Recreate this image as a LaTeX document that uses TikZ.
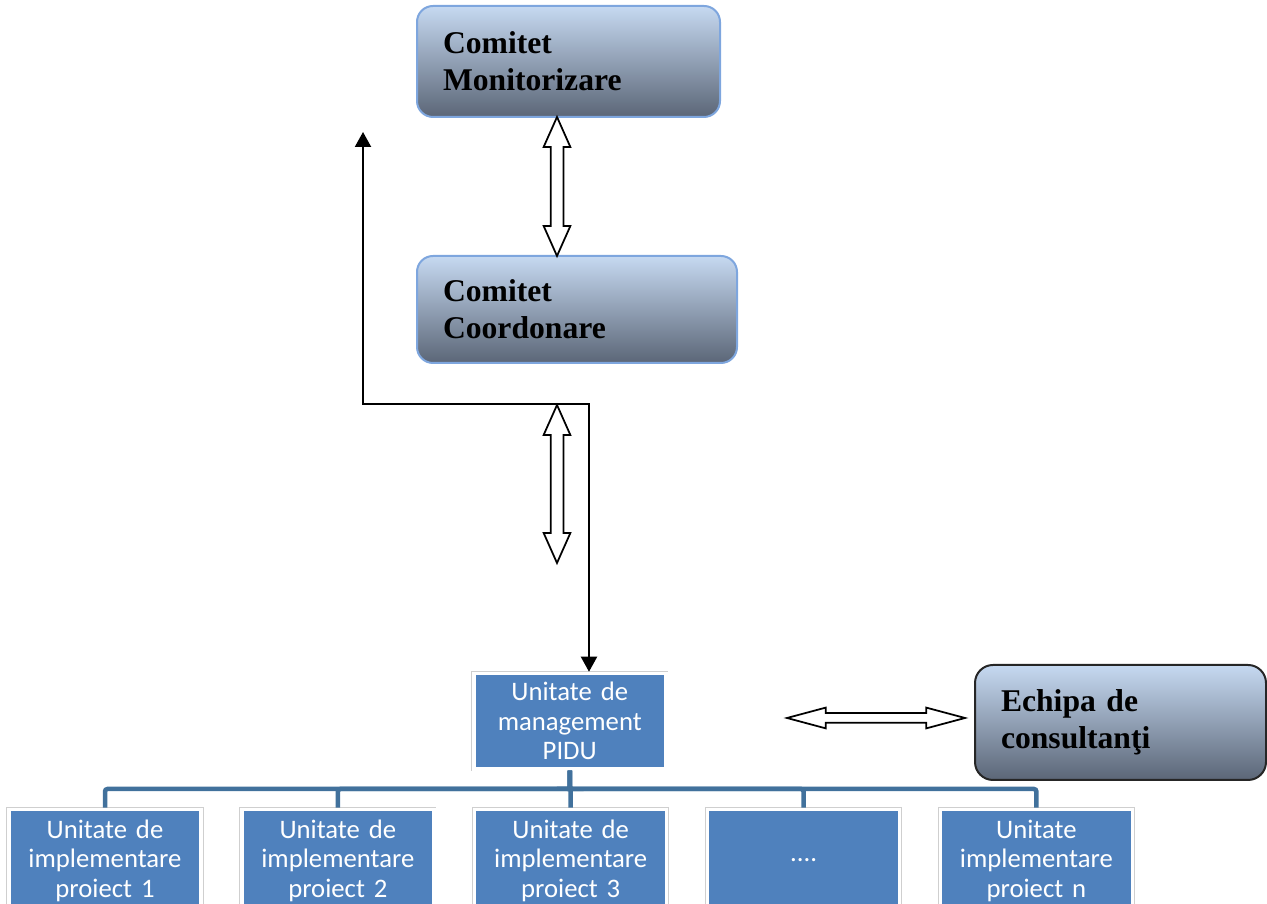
\documentclass[tikz,border=0pt]{standalone}
\usepackage{fontspec}
\setmainfont{Liberation Serif}
\newfontfamily\calibrifont{Carlito}
\usetikzlibrary{arrows.meta,shapes.arrows}

\definecolor{unitblue}{HTML}{4F81BD}
\definecolor{treeblue}{HTML}{41719C}
\definecolor{gradtop}{HTML}{C6D9F1}
\definecolor{gradbot}{HTML}{5B6677}
\definecolor{comborder}{HTML}{7EA6DE}
\definecolor{framegray}{HTML}{CFCFCF}

\tikzset{
  comitet/.style={rectangle, rounded corners=0.32cm, draw=comborder, line width=0.04cm,
    top color=gradtop, bottom color=gradbot, inner xsep=0.52cm, align=left,
    font=\bfseries\fontsize{18}{21}\selectfont},
  unit/.style={rectangle, fill=unitblue, draw=white, line width=0.07cm,
    preaction={draw=framegray, line width=0.1cm}, text=white, align=center,
    inner xsep=0.1cm, text width=3.64cm, minimum width=3.84cm,
    font=\calibrifont\fontsize{15.2}{16.8}\selectfont},
  blockarrow/.style={double arrow, draw=black, fill=white, line width=0.035cm,
    inner sep=0pt, minimum width=0pt, inner ysep=0.11cm,
    double arrow head extend=0.14cm, double arrow tip angle=48},
  tree/.style={treeblue, line width=0.09cm, rounded corners=0.05cm},
  feedback/.style={line width=0.04cm, >={Triangle[width=0.32cm,length=0.3cm]}, <->}
}

\begin{document}
\begin{tikzpicture}
\useasboundingbox (0,0) rectangle (25.34,18.08);
\clip (0,0) rectangle (25.34,18.08);

\node[comitet, text width=5.02cm, minimum height=2.22cm] (mon) at (11.37,16.85) {Comitet\\Monitorizare};
\node[comitet, text width=5.36cm, minimum height=2.14cm] (coord) at (11.54,11.89) {Comitet\\Coordonare};
\node[comitet, draw=black!85, rounded corners=0.36cm, text width=4.78cm, minimum height=2.3cm] (echipa) at (22.41,3.63) {Echipa de\\consultanţi};

\node[unit, minimum height=1.91cm] (pidu) at (11.395,3.655) {Unitate de\\management\\PIDU};

\node[unit, minimum height=2.04cm] (u1) at (2.10,0.87) {Unitate de\\implementare\\proiect 1};
\node[unit, minimum height=2.04cm] (u2) at (6.757,0.87) {Unitate de\\implementare\\proiect 2};
\node[unit, minimum height=2.04cm] (u3) at (11.414,0.87) {Unitate de\\implementare\\proiect 3};
\node[unit, minimum height=2.04cm] (u4) at (16.071,0.87) {....};
\node[unit, minimum height=2.04cm] (u5) at (20.728,0.87) {Unitate\\implementare\\proiect n};

\node[blockarrow, minimum height=2.78cm, rotate=90] (a1) at (11.14,14.35) {};
\node[blockarrow, minimum height=3.16cm, rotate=90] (a2) at (11.14,8.40) {};
\node[blockarrow, minimum height=3.56cm, inner ysep=0.08cm, double arrow head extend=0.11cm, double arrow tip angle=30] (a3) at (17.52,3.72) {};

\coordinate (bar) at (11.40,2.30);
\foreach \i in {1,...,5}
  \draw[tree] (pidu.south) -- (pidu.south |- bar) -| (u\i.north);

\coordinate (rep) at (7.26,15.44);
\coordinate (turn) at (11.78,10.00);
\draw[feedback] (pidu.north -| turn) -- (turn) -| (rep);
\end{tikzpicture}
\end{document}
